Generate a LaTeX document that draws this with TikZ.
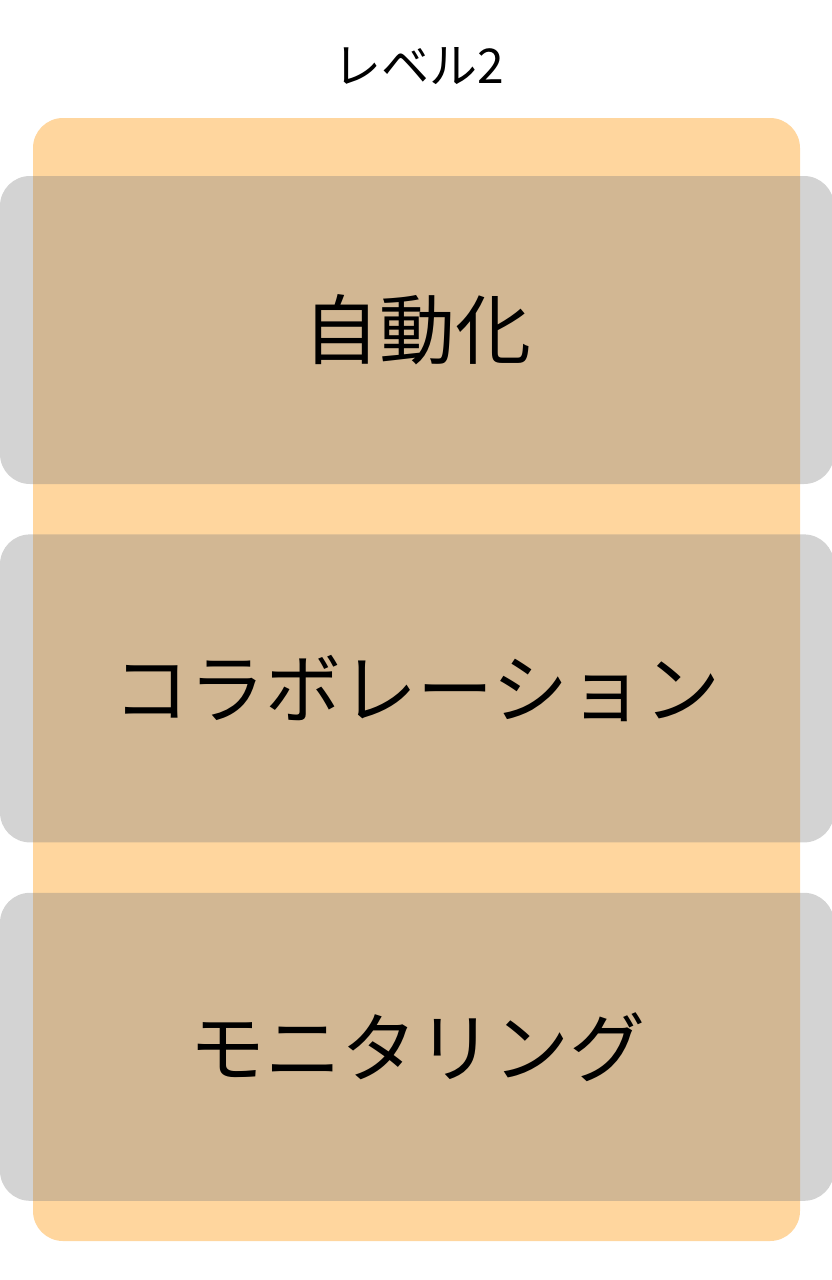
\documentclass[tikz,border=0pt]{standalone}
\usepackage{fontspec}
\setmainfont{Noto Sans CJK JP}
\usetikzlibrary{positioning}

\definecolor{lvlorange}{RGB}{255,214,158}

\begin{document}
\begin{tikzpicture}[x=1pt,y=-1pt,node distance=50pt]
\tikzstyle{level box}=[fill=lvlorange,rounded corners=30pt,minimum width=767pt,minimum height=1123pt,inner sep=0pt]
\tikzstyle{item}=[fill=gray,fill opacity=0.35,text opacity=1,rounded corners=30pt,minimum width=834pt,minimum height=308pt,inner sep=0pt,font=\fontsize{76}{82}\selectfont]

\useasboundingbox (0,0) rectangle (832,1280);

\node[level box] (L)  at (416.5,679.5) {};
\node            (T)  at (419,66) {\fontsize{48}{54}\selectfont レベル2};

\node[item]      (A)  at (417,330) {自動化};
\node[item]      (B)  [below=of A] {コラボレーション};
\node[item]      (C)  [below=of B] {モニタリング};
\end{tikzpicture}
\end{document}
